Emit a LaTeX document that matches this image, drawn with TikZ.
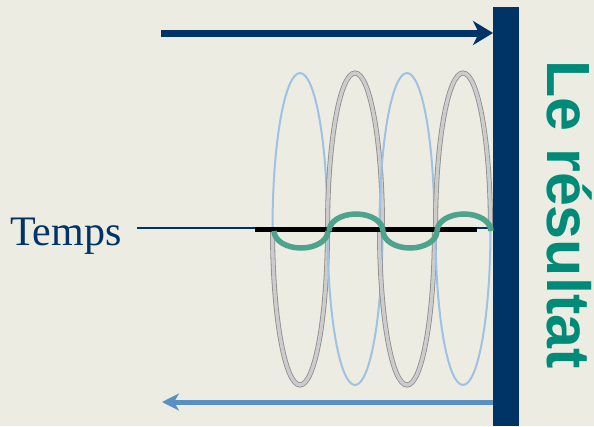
\documentclass[tikz,border=0pt]{standalone}
\usepackage{fontspec}
\setmainfont{Liberation Serif}
\newfontfamily\headfont{Liberation Sans}
\usetikzlibrary{arrows.meta,positioning,calc}
\definecolor{navy}{RGB}{0,51,102}
\definecolor{steel}{RGB}{88,144,196}
\definecolor{coilb}{RGB}{158,194,228}
\definecolor{tealgreen}{RGB}{78,163,140}
\definecolor{tealtext}{RGB}{0,138,120}
\definecolor{paper}{RGB}{237,236,226}

\begin{document}
\begin{tikzpicture}[
      x=1pt, y=-1pt,
      coilblue/.style={draw=coilb, line width=2pt},
      coilgray/.style={draw=black!45, double=black!20, double distance=3.4pt, line width=0.8pt},
      link/.style={draw=tealgreen, line width=5.5pt},
      barbox/.style={fill=navy, draw=none, minimum width=26pt, minimum height=419pt, inner sep=0pt}
    ]
      \fill[paper] (0,0) rectangle (594,426);
      \node[barbox, anchor=north west] (bar) at (493,7) {};
      % coil loops
      \foreach \cx/\topst/\botst in {300/coilblue/coilgray, 355/coilgray/coilblue, 407/coilblue/coilgray, 463/coilgray/coilblue} {
        \draw[\topst] (\cx-27.5,229) arc[start angle=180, end angle=360, x radius=27.5, y radius=156];
        \draw[\botst] (\cx-27.5,229) arc[start angle=180, end angle=0, x radius=27.5, y radius=156];
      }
      % time axis
      \node[font=\fontsize{42}{42}\selectfont, text=navy, anchor=base west, inner sep=0pt] (temps) at (10,245) {Temps};
      \coordinate (tstart) at (137,228);
      \draw[navy, line width=2pt] (tstart) -- (tstart -| bar.west);
      \draw[black, line width=5pt] (255,229.5) -- (477,229.5);
      \foreach \cx/\ea in {301/0, 356/360, 410/0, 464/360} {
        \draw[link] (\cx-27,231) arc[start angle=180, end angle=\ea, x radius=27, y radius=17];
      }
      % arrows
      \coordinate (topstart) at (161,33);
      \draw[navy, line width=7pt, -{Stealth[length=20pt, width=24pt, inset=6pt]}] (topstart) -- (topstart -| bar.west);
      \coordinate (botend) at (162,402);
      \draw[steel, line width=5pt, -{Stealth[length=17pt, width=17pt, inset=5pt]}] (botend -| bar.west) -- (botend);
      \node[font=\headfont\bfseries\fontsize{61}{61}\selectfont, text=tealtext, rotate=-90, anchor=base west, inner sep=0pt] (result) at (547,60) {Le résultat};
    \end{tikzpicture}
\end{document}
